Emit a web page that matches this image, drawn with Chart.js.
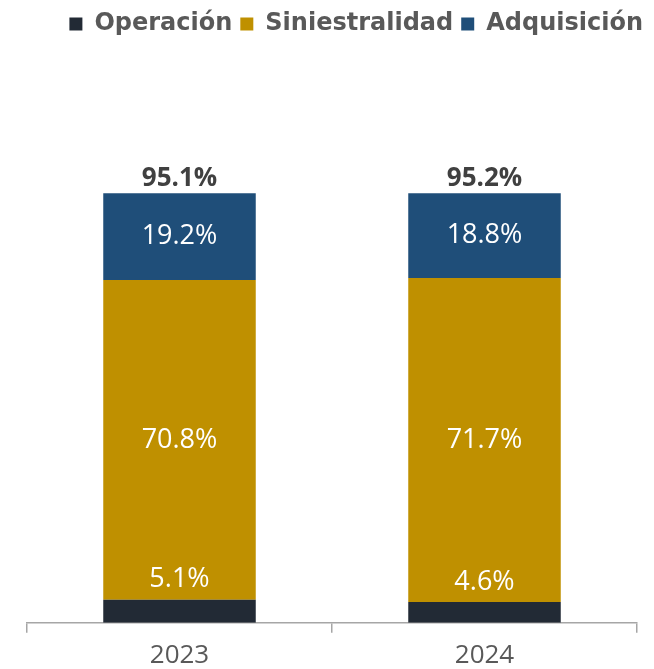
<!DOCTYPE html>
<html>
<head>
<meta charset="utf-8">
<script src="https://cdn.jsdelivr.net/npm/chart.js@4.4.1/dist/chart.umd.min.js"></script>
<style>
  html, body { margin: 0; padding: 0; background: #fff; overflow: hidden; }
  #wrap { width: 654px; height: 669px; overflow: hidden; }
</style>
</head>
<body>
<div id="wrap"><canvas id="chart" width="654" height="678"></canvas></div>
<script>
const years = ['2023', '2024'];
const operacion = [5.1, 4.6];
const siniestralidad = [70.8, 71.7];
const adquisicion = [19.2, 18.8];
const totals = [95.1, 95.2];

const FONT = "'Open Sans', 'DejaVu Sans', sans-serif";

// push the plot area down below the legend, and nudge the legend right
const legendGap = {
    id: 'legendGap',
    beforeInit(chart) {
        const fit = chart.legend.fit;
        chart.legend.fit = function () {
            fit.bind(chart.legend)();
            this.height += 125;
        };
    },
    afterLayout(chart) {
        chart.legend.left += 14;
        chart.legend.right += 14;
    }
};

// value labels inside the bars and totals on top
const barLabels = {
    id: 'barLabels',
    afterDatasetsDraw(chart) {
        const ctx = chart.ctx;
        ctx.save();
        ctx.textAlign = 'center';
        ctx.textBaseline = 'middle';
        chart.data.datasets.forEach((ds, i) => {
            const meta = chart.getDatasetMeta(i);
            meta.data.forEach((bar, j) => {
                const v = ds.data[j];
                const y = i === 0 ? bar.y - 20 : (bar.y + bar.base) / 2;
                ctx.fillStyle = '#ffffff';
                ctx.font = '27px ' + FONT;
                ctx.fillText(v.toFixed(1) + '%', bar.x, y);
            });
        });
        const top = chart.getDatasetMeta(2);
        top.data.forEach((bar, j) => {
            ctx.fillStyle = '#404040';
            ctx.font = 'bold 26px ' + FONT;
            ctx.fillText(totals[j].toFixed(1) + '%', bar.x, bar.y - 15);
        });
        ctx.restore();
    }
};

new Chart(document.getElementById('chart').getContext('2d'), {
    type: 'bar',
    data: {
        labels: years,
        datasets: [
            { label: 'Operación', data: operacion, backgroundColor: '#222a35' },
            { label: 'Siniestralidad', data: siniestralidad, backgroundColor: '#bf9000' },
            { label: 'Adquisición', data: adquisicion, backgroundColor: '#1f4e79' }
        ]
    },
    options: {
        responsive: false,
        animation: false,
        layout: { padding: { left: 27, right: 17, top: 4, bottom: 0 } },
        datasets: { bar: { categoryPercentage: 0.5, barPercentage: 1.0 } },
        plugins: {
            legend: {
                position: 'top',
                align: 'end',
                labels: {
                    boxWidth: 13,
                    boxHeight: 13,
                    padding: 8,
                    color: '#595959',
                    font: { family: "'DejaVu Sans', sans-serif", size: 24, weight: 'bold' }
                }
            },
            tooltip: { enabled: false }
        },
        scales: {
            x: {
                stacked: true,
                offset: true,
                grid: { offset: true, drawOnChartArea: false, tickLength: 10, color: '#a6a6a6', lineWidth: 1.5 },
                border: { color: '#a6a6a6', width: 1.5 },
                ticks: { color: '#595959', font: { family: FONT, size: 26 }, padding: 7 }
            },
            y: {
                stacked: true,
                display: false,
                min: 0,
                max: 100
            }
        }
    },
    plugins: [legendGap, barLabels]
});
</script>
</body>
</html>
